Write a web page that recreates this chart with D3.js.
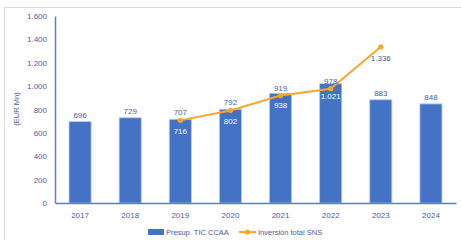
<!DOCTYPE html>
<html>
<head>
<meta charset="utf-8">
<script src="https://cdn.jsdelivr.net/npm/d3@7"></script>
<style>
  body { margin: 0; background: #fff; }
  text { font-family: "Liberation Sans", Arial, sans-serif; }
</style>
</head>
<body>
<div id="chart"></div>
<script>
// data
var years = ["2017", "2018", "2019", "2020", "2021", "2022", "2023", "2024"];
var presupTic = [696, 729, 716, 802, 938, 1021, 883, 848];
var inversionYears = ["2019", "2020", "2021", "2022", "2023"];
var inversionSns = [707, 792, 919, 978, 1336];
var yTicks = [0, 200, 400, 600, 800, 1000, 1200, 1400, 1600];
// where each bar label goes: above or inside the bar
var barLabelInside = [false, false, true, true, true, true, false, false];

var W = 461, H = 240;
var margin = { top: 16, right: 5, bottom: 37, left: 55 };

var blue = "#4472c4", orange = "#f9a530", txt = "#44609c";
var fmt = function (v) { return d3.format(",")(v).replace(/,/g, "."); };

var svg = d3.select("#chart").append("svg")
	.attr("width", W).attr("height", H);

// outer frame
svg.append("rect")
	.attr("x", 4.5).attr("y", 7.5).attr("width", W + 10).attr("height", H)
	.attr("fill", "none").attr("stroke", "#d9d9d9");

var x = d3.scaleBand().domain(years)
	.range([margin.left, W - margin.right]).paddingInner(0.56).paddingOuter(0.28);
var y = d3.scaleLinear().domain([0, 1600]).range([H - margin.bottom, margin.top]);

// y axis
var yAxis = svg.append("g")
	.attr("transform", "translate(" + margin.left + ",0)")
	.call(d3.axisLeft(y).tickValues(yTicks).tickFormat(fmt).tickSize(0).tickPadding(8));
yAxis.select(".domain").attr("stroke", "#5b7fc7").attr("stroke-width", 1.5);
yAxis.selectAll("text").attr("fill", txt).attr("font-size", 8);

// bars
svg.selectAll("rect.bar")
	.data(presupTic)
	.enter().append("rect")
	.attr("class", "bar")
	.attr("x", function (d, i) { return x(years[i]); })
	.attr("y", function (d) { return y(d); })
	.attr("width", x.bandwidth())
	.attr("height", function (d) { return y(0) - y(d); })
	.attr("fill", blue)
	.attr("stroke", "#b4c7e7").attr("stroke-width", 0.8);

// x axis
var xAxis = svg.append("g")
	.attr("transform", "translate(0," + y(0) + ")")
	.call(d3.axisBottom(x).tickSize(0).tickPadding(9));
xAxis.select(".domain").attr("stroke", "#5b7fc7").attr("stroke-width", 1.5);
xAxis.selectAll("text").attr("fill", txt).attr("font-size", 8);

// bar labels
svg.selectAll("text.blab")
	.data(presupTic)
	.enter().append("text")
	.attr("class", "blab")
	.attr("x", function (d, i) { return x(years[i]) + x.bandwidth() / 2; })
	.attr("y", function (d, i) { return barLabelInside[i] ? y(d) + 15 : y(d) - 4; })
	.attr("text-anchor", "middle")
	.attr("font-size", 8)
	.attr("fill", function (d, i) { return barLabelInside[i] ? "#fff" : txt; })
	.text(fmt);

// line
var cx = function (i) { return x(inversionYears[i]) + x.bandwidth() / 2; };
var line = d3.line()
	.x(function (d, i) { return cx(i); })
	.y(function (d) { return y(d); });
svg.append("path")
	.datum(inversionSns)
	.attr("d", line)
	.attr("fill", "none")
	.attr("stroke", orange).attr("stroke-width", 2);
svg.selectAll("circle.pt")
	.data(inversionSns)
	.enter().append("circle")
	.attr("cx", function (d, i) { return cx(i); })
	.attr("cy", function (d) { return y(d); })
	.attr("r", 2.6).attr("fill", orange);
svg.selectAll("text.llab")
	.data(inversionSns)
	.enter().append("text")
	.attr("x", function (d, i) { return cx(i); })
	.attr("y", function (d, i) { return i === inversionSns.length - 1 ? y(d) + 14 : y(d) - 5; })
	.attr("text-anchor", "middle")
	.attr("font-size", 8)
	.attr("fill", txt)
	.text(fmt);

// y title
svg.append("text")
	.attr("transform", "translate(19," + (margin.top + 93) + ") rotate(-90)")
	.attr("text-anchor", "middle")
	.attr("font-size", 7.5)
	.attr("fill", txt)
	.text("(EUR Mn)");

// legend
var lg = svg.append("g").attr("transform", "translate(0,232)");
lg.append("rect").attr("x", 148).attr("y", -3).attr("width", 16).attr("height", 6).attr("fill", blue);
lg.append("text").attr("x", 166).attr("y", 3).attr("font-size", 7.5).attr("fill", txt).text("Presup. TIC CCAA");
lg.append("line").attr("x1", 239).attr("x2", 256).attr("y1", 0).attr("y2", 0)
	.attr("stroke", orange).attr("stroke-width", 2);
lg.append("circle").attr("cx", 247.5).attr("cy", 0).attr("r", 2.6).attr("fill", orange);
lg.append("text").attr("x", 258).attr("y", 3).attr("font-size", 7.5).attr("fill", txt).text("Inversión total SNS");
</script>
</body>
</html>
